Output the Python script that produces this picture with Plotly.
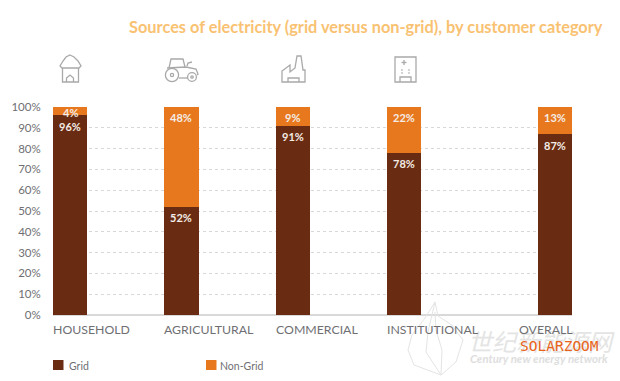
import plotly.graph_objects as go

W, H = 620, 381
categories = ["HOUSEHOLD", "AGRICULTURAL", "COMMERCIAL", "INSTITUTIONAL", "OVERALL"]
positions = [0, 1, 2, 3, 4.36]
grid_values = [96, 52, 91, 78, 87]
non_grid_values = [4, 48, 9, 22, 13]
y_ticks = [0, 10, 20, 30, 40, 50, 60, 70, 80, 90, 100]
y_labels = ["0%", "10%", "20%", "30%", "40%", "50%", "60%", "70%", "80%", "90%", "100%"]

DARK, ORANGE, TITLE, GREY, ICON = "#692c12", "#e8781e", "#f9c272", "#6f6f73", "#a9a9a9"
FONT = "Lato"
BAR_W = 0.308
WM = "#e4e4e4"
X_UNIT = 111.3
X_ORIGIN = 70.15


def px(x):
    return x / W


def py(y):
    return 1 - y / H


def poly(points, close=False):
    d = "M" + " L".join(f"{px(x):.5f},{py(y):.5f}" for x, y in points)
    return d + (" Z" if close else "")


def line_shape(points, close=False, color=ICON, width=1.3):
    return dict(type="path", xref="paper", yref="paper", path=poly(points, close),
                line=dict(color=color, width=width))


def circle(cx, cy, r, color=ICON, width=1.3):
    return dict(type="circle", xref="paper", yref="paper", x0=px(cx - r), x1=px(cx + r),
                y0=py(cy + r), y1=py(cy - r), line=dict(color=color, width=width))


def rect(x0, y0, x1, y1, fill=None, color=ICON, width=1.3):
    d = dict(type="rect", xref="paper", yref="paper", x0=px(x0), x1=px(x1), y0=py(y1), y1=py(y0),
             line=dict(color=color, width=width))
    if fill:
        d["fillcolor"] = fill
        d["line"] = dict(width=0)
    return d


shapes = [
    # house
    line_shape([(70, 55), (74, 57), (78, 61), (81, 66), (79, 68), (62, 68), (60, 66), (63, 61), (66, 57)], True),
    line_shape([(62.5, 68), (62.5, 82), (78.5, 82), (78.5, 68)]),
    line_shape([(66.5, 82), (66.5, 78), (70, 75), (73.5, 78), (73.5, 82)]),
    # tractor
    circle(172, 75, 6.6), circle(172, 75, 1.6),
    circle(192, 77, 4.4), circle(192, 77, 1.2),
    line_shape([(169, 68), (171, 59), (183, 59), (185, 67)]),
    line_shape([(167, 68), (186, 67), (196, 69), (198, 74), (197, 75)]),
    line_shape([(179, 78), (188, 78)]),
    line_shape([(187, 66), (188, 63), (192, 62)]),
    # factory
    line_shape([(282, 82), (305, 82), (305, 70), (303, 70), (301, 56), (297, 56), (295, 68),
                (290, 72), (290, 65), (282, 71)], True),
    line_shape([(288, 82), (288, 78), (299, 78), (299, 82)]),
    # institution
    rect(395, 57, 416, 82),
    line_shape([(404, 60), (404, 65)]), line_shape([(401.5, 62.5), (406.5, 62.5)]),
    line_shape([(401, 70), (403, 70)], width=1), line_shape([(408, 70), (410, 70)], width=1),
    line_shape([(401, 73), (403, 73)], width=1), line_shape([(408, 73), (410, 73)], width=1),
    line_shape([(400, 82), (400, 77), (411, 77), (411, 82)]),
    # legend swatches
    rect(53, 360, 63.5, 370, fill=DARK),
    rect(206, 360, 216.5, 370, fill=ORANGE),
    # watermark leaf
    line_shape([(435, 302), (425, 318), (412, 335), (408, 350), (414, 365), (441, 375), (456, 362),
                (463, 340), (452, 325), (438, 316), (435, 302)], color=WM, width=1),
    line_shape([(441, 375), (426, 352), (428, 332), (435, 302)], color=WM, width=1),
    line_shape([(441, 375), (442, 350), (436, 330), (435, 312)], color=WM, width=1),
]

annotations = []


def text(x, y, s, size, color, anchor="left", xref="paper", **kw):
    annotations.append(dict(x=x, y=y, xref=xref, yref="paper", text=s, showarrow=False,
                            xanchor=anchor, yanchor="middle",
                            font=dict(family=kw.pop("family", FONT), size=size, color=color), **kw))


# watermark first, so the labels sit on top of it
text(px(466), py(340), "<i>世纪新能源网</i>", 24, WM, family="Noto Sans CJK SC")
text(px(539), py(358), "<i><b>Century new energy network</b></i>", 11.4, "#dedede", anchor="center")
text(px(559.5), py(346), "SOLARZOOM", 14.5, "#e8641a", anchor="center", family="DejaVu Sans Mono")

text(px(126.5), py(26), "<b>Sources of electricity (grid versus non-grid), by customer category</b>", 16.35, TITLE)

for i, (pos, cat, g, n) in enumerate(zip(positions, categories, grid_values, non_grid_values)):
    centre = X_ORIGIN + pos * X_UNIT
    half = BAR_W * X_UNIT / 2
    if i == len(categories) - 1:
        text(px(centre + half + 2), py(329.5), cat, 12.3, GREY, anchor="right")
    else:
        text(px(centre - half - 2), py(329.5), cat, 12.3, GREY)
    for value, top, shift in ((g, g, -11), (n, 100, -10 if n > 4 else -5)):
        annotations.append(dict(x=pos, y=top, xref="x", yref="y", text=f"<b>{value}%</b>", showarrow=False,
                                yanchor="middle", yshift=shift,
                                font=dict(family=FONT, size=11, color="#f4ece6")))

text(px(67), py(366), "Grid", 10.5, GREY)
text(px(217.5), py(366), "Non-Grid", 10.5, GREY)

fig = go.Figure()
fig.add_bar(name="Grid", x=positions, y=grid_values, marker=dict(color=DARK, line=dict(width=0)), width=BAR_W)
fig.add_bar(name="Non-Grid", x=positions, y=non_grid_values, marker=dict(color=ORANGE, line=dict(width=0)), width=BAR_W)

fig.update_layout(
    width=W, height=H, barmode="stack", showlegend=False,
    paper_bgcolor="white", plot_bgcolor="white",
    margin=dict(l=0, r=0, t=0, b=0),
    xaxis=dict(domain=[px(53), px(572)], range=[(53 - X_ORIGIN) / X_UNIT, (572 - X_ORIGIN) / X_UNIT], automargin=False,
               showticklabels=False, showgrid=False, zeroline=False, ticks="", showline=False),
    yaxis=dict(domain=[py(315), py(107)], range=[0, 100], automargin=False,
               tickmode="array", tickvals=y_ticks, ticktext=y_labels,
               tickfont=dict(family=FONT, size=11.5, color=GREY),
               ticks="outside", ticklen=9, tickcolor="rgba(0,0,0,0)",
               showgrid=True, gridcolor="#d8d8d8", griddash="dot", gridwidth=1,
               zeroline=True, zerolinecolor="#d9d9d9", zerolinewidth=1.5, showline=False),
    shapes=shapes, annotations=annotations,
)
fig.write_html("out.html", config=dict(displayModeBar=False), post_script="document.body.style.margin='0';")
